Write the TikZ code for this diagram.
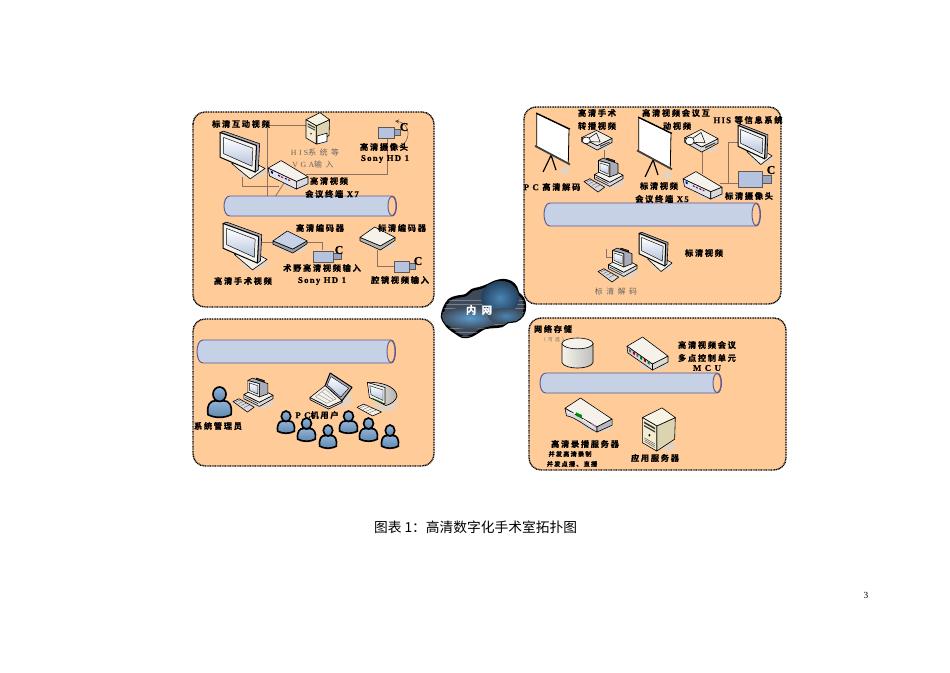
\documentclass[tikz,border=0pt]{standalone}
\usepackage{fontspec}
\setmainfont{Liberation Serif}
\newfontfamily\cjkb[LetterSpace=20,FakeBold=1]{Noto Sans CJK SC Bold}
\newfontfamily\cjkr[LetterSpace=45]{Noto Sans CJK SC}
\newfontfamily\cjkcap{Noto Sans CJK SC}
\newfontfamily\latb[LetterSpace=14,FakeBold=0.5]{Liberation Serif Bold}
\newfontfamily\latr[LetterSpace=30]{Liberation Serif}
\definecolor{peach}{HTML}{FFCC99}
\definecolor{pipeblue}{HTML}{C6D1E6}
\definecolor{pipeedge}{HTML}{5A5890}
\definecolor{softsh}{HTML}{E6D2C0}
\definecolor{devlight}{HTML}{F4F2EA}
\definecolor{devmid}{HTML}{D9D8DE}
\definecolor{devdark}{HTML}{A9ACB8}
\definecolor{cambody}{HTML}{B5C3DE}
\definecolor{pfill}{HTML}{6E9CCB}
\definecolor{wire}{HTML}{8A7266}
\definecolor{cream}{HTML}{F3ECD0}
\definecolor{creamd}{HTML}{DCD3B0}
\definecolor{slate}{HTML}{3E4A5A}
\definecolor{puffA}{HTML}{5A9ACB}
\definecolor{puffB}{HTML}{4A85B5}
\definecolor{puffC}{HTML}{24425F}
\tikzset{
  panel/.style={draw=black,fill=peach,line width=1.05pt,dash pattern=on .75pt off .5pt,rounded corners=9pt},
  wireline/.style={draw=wire,line width=0.6pt},
  lab/.style={inner sep=0pt,font=\fontsize{6.2pt}{7pt}\cjkb,text=black},
  labsmall/.style={inner sep=0pt,font=\fontsize{4.6pt}{5pt}\cjkb,text=black},
  grey/.style={inner sep=0pt,font=\fontsize{5.9pt}{6pt}\cjkr,text=black!60},
  dev/.style={draw=black,line width=0.45pt,line join=round},
  devthick/.style={draw=black,line width=0.75pt,line join=round},
}
\newcommand{\ltn}[1]{{\fontsize{6.6pt}{7pt}\latb #1}}
\newcommand\icon[5]{\begin{scope}[shift={(#1,#2)},x={#3*0.0075pt},y={-#4*0.0075pt}]#5\end{scope}}
\newcommand\monitor[4]{\icon{#1}{#2}{#3}{#4}{
  \fill[softsh] (72,90) ellipse (30 and 13);
  \filldraw[dev,fill=devlight] (26,70)--(60,60)--(100,81)--(67,104)--cycle;
  \filldraw[dev,fill=devdark] (0,1)--(8,-2)--(88,26)--(85,84)--(78,89)--(81,30)--cycle;
  \filldraw[devthick,fill=devlight] (0,1)--(81,30)--(78,89)--(0,56)--cycle;
  \shade[top color=white,bottom color=cambody,draw=black,line width=.35pt] (8,12)--(73,36)--(71,76)--(8,48)--cycle;
}}
\newcommand\desktop[4]{\icon{#1}{#2}{#3}{#4}{
  \fill[softsh] (72,72) ellipse (30 and 18);
  \filldraw[dev,fill=devmid] (27,50)--(66,72)--(100,52)--(100,62)--(66,84)--(27,62)--cycle;
  \filldraw[dev,fill=devlight] (27,50)--(62,30)--(100,52)--(66,72)--cycle;
  \draw[black,line width=.3pt] (31,58)--(62,76);
  \filldraw[dev,fill=devdark] (37,10)--(49,3)--(87,19)--(87,48)--(66,57)--(66,19)--cycle;
  \filldraw[dev,fill=black!70] (58,3)--(78,10)--(78,14)--(58,7)--cycle;
  \filldraw[dev,fill=devlight] (37,10)--(66,19)--(66,57)--(37,43)--cycle;
  \shade[top color=white,bottom color=cambody,draw=black,line width=.3pt] (41,17)--(62,25)--(62,49)--(41,38)--cycle;
  \filldraw[dev,fill=devmid] (0,70)--(15,62)--(53,86)--(36,100)--cycle;
  \draw[black!70,line width=.25pt] (7,71)--(20,65) (14,76)--(27,69) (21,81)--(34,74) (28,87)--(42,79);
}}
\newcommand\projector[4]{\icon{#1}{#2}{#3}{#4}{
  \fill[softsh] (72,85) ellipse (28 and 14);
  \filldraw[dev,fill=devmid] (2,38)--(2,58)--(52,100)--(100,62)--(100,42)--(52,78)--cycle;
  \filldraw[dev,fill=devlight] (2,38)--(50,2)--(100,42)--(52,78)--cycle;
  \draw[black,line width=.4pt] (26,40)--(50,15)--(62,60) (26,58)--(62,60);
  \filldraw[dev,fill=white] (17,52) ellipse (13 and 17);
  \fill[black!80] (62,78)--(92,58)--(92,62)--(62,84)--cycle;
}}
\newcommand\pscreen[4]{\icon{#1}{#2}{#3}{#4}{
  \fill[softsh] (86,92) ellipse (14 and 7);
  \draw[black,line width=.9pt] (46,68)--(23,95) (46,68)--(60,92);
  \filldraw[black,line width=.6pt,fill=white] (5,1)--(97,26)--(95,81)--(5,54)--cycle;
  \draw[black!75,line width=1.3pt] (0,53)--(100,83);
  \draw[black,line width=.9pt] (3,0)--(100,26);
}}
\newcommand\termbox[4]{\icon{#1}{#2}{#3}{#4}{
  \fill[softsh] (70,88) ellipse (32 and 14);
  \filldraw[dev,fill=devlight] (0,28)--(33,2)--(100,58)--(71,74)--cycle;
  \filldraw[dev,fill=devmid!70!white] (0,28)--(71,74)--(71,100)--(4,55)--cycle;
  \filldraw[dev,fill=devmid] (71,74)--(100,58)--(100,82)--(71,100)--cycle;
  \fill[blue!70!black] (7,36)--(12,40)--(12,48)--(7,44)--cycle;
  \fill[blue!60!black] (25,50)--(30,54)--(30,58)--(25,54)--cycle;
  \fill[red!70!black] (33,56)--(38,59)--(38,63)--(33,60)--cycle;
  \fill[blue!60!black] (42,61)--(47,64)--(47,68)--(42,65)--cycle;
  \fill[red!70!black] (50,66)--(55,69)--(55,73)--(50,70)--cycle;
}}
\newcommand\encoder[5]{\icon{#1}{#2}{#3}{#4}{
  \fill[softsh] (62,80) ellipse (38 and 18);
  \filldraw[dev,fill=#5!75!black] (0,45)--(0,60)--(58,100)--(100,58)--(100,45)--(58,82)--cycle;
  \filldraw[dev,fill=#5] (0,45)--(42,0)--(100,45)--(58,82)--cycle;
}}
\newcommand\camera[4]{\icon{#1}{#2}{#3}{#4}{
  \filldraw[draw=black!65,line width=.4pt,fill=cambody] (0,0)--(72,0)--(72,100)--(0,100)--cycle;
  \filldraw[draw=black!65,line width=.4pt,fill=cambody!85!black] (72,25)--(100,25)--(100,75)--(72,75)--cycle;
}}
\newcommand\person[4]{\icon{#1}{#2}{#3}{#4}{
  \path[draw=black,line width=1.25pt,top color=pfill!75!white,bottom color=pfill!85!black] (4,92) .. controls (-2,60) and (14,44) .. (34,46) -- (66,46) .. controls (88,44) and (102,62) .. (96,92) .. controls (70,104) and (30,104) .. (4,92) -- cycle;
  \path[draw=black,line width=1.25pt,top color=pfill!75!white,bottom color=pfill!85!black] (50,24) ellipse (26 and 24);
}}
\newcommand\cloudpath{plot[smooth cycle,tension=.6] coordinates {
 (442,317) (444,308) (449,300) (456,297) (466,295) (472,290) (480,288) (488,285) (494,282) (503,280) (511,282) (516,287) (518,293) (523,298) (525,306) (523,315) (516,321) (508,322) (502,326) (494,327) (485,328) (478,332) (471,336) (463,337) (456,333) (449,328) (445,323)}}
\begin{document}
\begin{tikzpicture}[x=0.75pt,y=-0.75pt]
\useasboundingbox (0,0) rectangle (950,672);
\fill[white] (0,0) rectangle (950,672);
% panels
\path[panel] (193,112) rectangle (434,307);
\path[panel] (524,107) rectangle (781,304);
\path[panel] (193,319) rectangle (434,466);
\path[panel] (529,318) rectangle (786,470);
% coordinates for connectors
\coordinate (aTop) at (267,125);
\coordinate (aSrv) at (306,125);
\coordinate (aPipeA) at (267,197);
\coordinate (aPipeB) at (275,197);
\coordinate (aTerm) at (284,183);
\coordinate (aMon) at (242,177);
\coordinate (aTermB) at (279,186);
\coordinate (aCam) at (387,138);
\coordinate (aTermR) at (306,174);
\coordinate (aEncL) at (273,242);
\coordinate (aMonR) at (260,242);
\coordinate (aEncR) at (306,242);
\coordinate (aCamT) at (322,250);
\coordinate (sEnc) at (377,250);
\coordinate (sCam) at (395,266);
\coordinate (bProj1) at (604,150);
\coordinate (bPC1) at (604,160);
\coordinate (bProj2) at (702,152);
\coordinate (bTerm) at (702,174);
\coordinate (bTermR) at (720,183);
\coordinate (bCam) at (738,183);
\coordinate (bMon) at (739,142);
\coordinate (bJoint) at (728,183);
\coordinate (bPCa) at (606,249);
\coordinate (bPCb) at (613,257);
% connectors
\draw[wireline] (aTop)--(aPipeA);
\draw[wireline] (aTop)--(aSrv);
\draw[wireline] (aTerm)--(aPipeB);
\draw[wireline] (aMon)--(aMon|-aTermB)--(aTermB);
\draw[wireline] (aCam)--(aCam|-aTermR)--(aTermR);
\draw[wireline] (aMonR)--(aEncL);
\draw[wireline] (aEncR)--(aCamT|-aEncR)--(aCamT);
\draw[wireline] (sEnc)--(sEnc|-sCam)--(sCam);
\draw[wireline] (bProj1)--(bPC1);
\draw[wireline] (bProj2)--(bTerm);
\draw[wireline] (bTermR)--(bCam);
\draw[wireline] (bJoint)--(bJoint|-bMon)--(bMon);
\draw[wireline] (bPCa)--(bPCa|-bPCb)--(bPCb);
% pipes
\foreach \xa/\xb/\ya/\yb in {224/397/196/216, 544/761/203/226, 197/396/340/363, 540/722/373/393}{
  \pgfmathsetmacro{\rr}{(\yb-\ya)/2}
  \pgfmathsetmacro{\ym}{(\ya+\yb)/2}
  \filldraw[draw=pipeedge,fill=pipeblue,line width=.7pt]
    (\xa+6,\ya) -- (\xb-5,\ya) .. controls (\xb+1,\ya) and (\xb+1,\yb) .. (\xb-5,\yb) -- (\xa+6,\yb)
    .. controls (\xa-2,\yb) and (\xa-2,\ya) .. (\xa+6,\ya) -- cycle;
  \filldraw[draw=pipeedge,fill=peach,line width=.7pt] (\xb-5,\ym) ellipse (4 and \rr-.5);
}
% panel A devices
\monitor{220}{132}{45}{45}
\termbox{268}{160}{40}{29}
\monitor{223}{223}{44}{45}
\encoder{273}{231}{34}{22}{cambody!75!white}
\encoder{360}{227}{35}{23}{devlight}
\camera{378}{127}{22}{11}
\camera{313}{251}{28}{11}
\camera{394}{261}{21}{11}
% arc by camera
\coordinate (arcA) at (395,121);
\coordinate (arcB) at (398,147);
\draw[black!70,line width=.35pt,-stealth] (arcB) .. controls (412,143) and (411,123) .. (arcA);
% server in panel A
\icon{305}{112}{25}{32}{
  \fill[softsh] (75,92) ellipse (25 and 9);
  \filldraw[dev,fill=creamd] (45,43)--(98,24)--(96,73)--(45,100)--cycle;
  \filldraw[dev,fill=cream!60!white] (4,24)--(60,2)--(98,24)--(45,43)--cycle;
  \filldraw[dev,fill=cream] (4,24)--(45,43)--(45,100)--(4,81)--cycle;
  \fill[black!75] (10,35)--(40,47)--(40,51)--(10,39)--cycle;
  \fill[black!75] (10,43)--(40,55)--(40,58)--(10,46)--cycle;
  \fill[black] (24,68) circle (3 and 3);
  \filldraw[dev,fill=white] (48,75)--(88,66)--(88,92)--(48,100)--cycle;
}
% panel B devices
\pscreen{535}{113}{35}{62}
\projector{581}{130}{31}{20}
\desktop{584}{157}{39}{35}
\pscreen{637}{117}{35}{63}
\projector{684}{129}{34}{23}
\monitor{738}{125}{34}{38}
\termbox{683}{171}{39}{28}
\camera{738}{171}{33}{16}
\monitor{639}{233}{33}{37}
\desktop{598}{247}{39}{35}
% panel C devices
\person{207}{387}{25}{30}
\desktop{233}{377}{40}{35}
% laptop
\icon{310}{373}{42}{36}{
  \fill[softsh] (72,72) ellipse (28 and 24);
  \filldraw[devthick,fill=devdark] (36,35)--(48,0)--(100,40)--(76,77)--cycle;
  \shade[top color=white,bottom color=cambody,draw=black,line width=.3pt] (41,33)--(50,10)--(92,42)--(73,67)--cycle;
  \filldraw[dev,fill=devmid] (0,68)--(0,74)--(44,100)--(76,82)--(76,77)--(44,94)--cycle;
  \filldraw[dev,fill=devlight] (0,68)--(36,35)--(76,77)--(44,94)--cycle;
  \draw[black!45,line width=.3pt] (13,66)--(36,44)--(62,72)--(40,84)--cycle (20,60)--(48,78) (28,52)--(55,74);
}
% curved-back PC
\icon{357}{381}{40}{36}{
  \fill[softsh] (72,62) ellipse (30 and 24);
  \path[draw=black,line width=.5pt,left color=devlight,right color=black!30] (26,4) .. controls (55,2) and (96,12) .. (100,41) .. controls (98,54) and (86,64) .. (72,68) -- (34,46) -- cycle;
  \filldraw[dev,fill=devlight] (26,4)--(70,18)--(70,64)--(31,46)--cycle;
  \shade[top color=white,bottom color=cambody,draw=black,line width=.3pt] (32,13)--(65,25)--(65,54)--(35,38)--cycle;
  \draw[green!50!black,line width=.4pt] (37,47)--(64,60);
  \filldraw[dev,fill=devlight] (0,73)--(17,64)--(61,86)--(39,97)--cycle;
  \draw[black!60,line width=.25pt] (7,75)--(24,67) (15,79)--(32,71) (23,84)--(41,75) (31,88)--(49,80);
}
\person{277}{411}{18}{22}
\person{297}{418}{19}{23}
\person{319}{425}{18}{23}
\person{339}{411}{19}{22}
\person{359}{418}{19}{23}
\person{381}{425}{18}{23}
% panel D devices
\icon{562}{338}{31}{30}{
  \path[draw=black,line width=.5pt,left color=devlight,right color=black!25] (0,18) -- (0,82) .. controls (10,106) and (90,106) .. (100,82) -- (100,18) -- cycle;
  \filldraw[dev,fill=devlight] (50,18) ellipse (50 and 18);
}
\icon{627}{337}{41}{33}{
  \fill[softsh] (65,85) ellipse (35 and 15);
  \filldraw[dev,fill=devlight] (0,28)--(38,0)--(100,58)--(62,82)--cycle;
  \filldraw[dev,fill=devmid] (0,28)--(62,82)--(62,100)--(2,48)--cycle;
  \filldraw[dev,fill=devlight!90!black] (62,82)--(100,58)--(100,76)--(62,100)--cycle;
  \fill[black!60] (5,36)--(10,40)--(10,48)--(5,44)--cycle;
  \fill[red!60!black] (14,43)--(19,47)--(19,55)--(14,51)--cycle;
  \fill[black!60] (23,50)--(28,54)--(28,62)--(23,58)--cycle;
  \fill[green!50!black] (32,58)--(37,62)--(37,70)--(32,66)--cycle;
  \fill[red!60!black] (41,65)--(46,69)--(46,77)--(41,73)--cycle;
  \fill[green!50!black] (50,72)--(55,76)--(55,84)--(50,80)--cycle;
}
\icon{565}{398}{47}{34}{
  \fill[softsh] (72,85) ellipse (30 and 15);
  \filldraw[dev,fill=devlight] (0,30)--(33,0)--(100,62)--(68,85)--cycle;
  \filldraw[dev,fill=devmid] (0,30)--(3,52) .. controls (25,58) and (45,85) .. (68,100) -- (68,85) -- cycle;
  \filldraw[dev,fill=devmid!85!black] (68,85)--(100,62)--(100,80)--(68,100)--cycle;
  \fill[green!55!black] (23,42)--(36,50)--(36,60)--(23,52)--cycle;
  \draw[white,line width=.5pt] (5,42)--(22,46) (38,62)--(60,84);
  \fill[violet!50!white] (56,74)--(66,82)--(66,87)--(56,79)--cycle;
}
\icon{641}{407}{35}{44}{
  \fill[softsh] (78,90) ellipse (22 and 10);
  \filldraw[dev,fill=creamd] (45,43)--(98,24)--(96,73)--(45,100)--cycle;
  \filldraw[dev,fill=cream!60!white] (4,24)--(60,2)--(98,24)--(45,43)--cycle;
  \filldraw[dev,fill=cream] (4,24)--(45,43)--(45,100)--(4,81)--cycle;
  \fill[black!80] (9,33)--(40,47)--(40,51)--(9,37)--cycle;
  \fill[black!80] (9,41)--(40,55)--(40,58)--(9,44)--cycle;
  \fill[black] (24,64) circle (3 and 3);
  \draw[black!70,line width=.3pt] (10,70)--(40,84) (10,74)--(40,88) (10,78)--(40,92);
}
% cloud
\coordinate (cloudC) at (479,310);
\filldraw[draw=black,line width=1.8pt,fill=slate] \cloudpath;
\begin{scope}
\clip \cloudpath;
\foreach \yy in {300,304,...,336}{\draw[white,line width=.3pt,opacity=.3] (442,\yy)--(526,\yy);}
\shade[inner color=puffA,outer color=slate] (470,318) ellipse (30 and 11);
\shade[inner color=puffB,outer color=puffC] (500,298) ellipse (19 and 17);
\shade[inner color=puffB,outer color=slate] (506,316) ellipse (18 and 8);
\end{scope}
\node[inner sep=0pt,text=white,font=\fontsize{7.8pt}{8pt}\cjkb] (cloudlabel) at (cloudC) {内\hspace{4pt}网};
% labels panel A
\node[lab] (t1) at (241,124) {标清互动视频};
\node[grey] (t2) at (315,152) {{\latr HIS}系统等};
\node[grey] (t3) at (313,164) {{\latr VGA}输入};
\node[lab] (t4) at (384,147) {高清摄像头};
\node[lab] (t5) at (385,159) {\ltn{Sony HD 1}};
\node[lab,font=\fontsize{9pt}{9pt}\latb] (t6) at (404,127) {C};
\node[lab] (t7) at (329,181) {高清视频};
\node[lab] (t8) at (332,194) {会议终端 \ltn{X7}};
\node[lab] (t9) at (320,228) {高清编码器};
\node[lab,font=\fontsize{9pt}{9pt}\latb] (t10) at (339,250) {C};
\node[lab] (t11) at (322,268) {术野高清视频输入};
\node[lab] (t12) at (322,281) {\ltn{Sony HD 1}};
\node[lab] (t13) at (243,281) {高清手术视频};
\node[lab] (t14) at (402,228) {标清编码器};
\node[lab,font=\fontsize{9pt}{9pt}\latb] (t15) at (418,261) {C};
\node[lab] (t16) at (400,280) {腔镜视频输入};
% labels panel B
\node[lab] (u1) at (597,113) {高清手术};
\node[lab] (u2) at (597,126) {转播视频};
\node[lab] (u3) at (552,187) {\ltn{P C} 高清解码};
\node[lab] (u4) at (676,113) {高清视频会议互};
\node[lab] (u5) at (677,126) {动视频};
\node[lab] (u6) at (748,120) {\ltn{HIS} 等信息系统};
\node[lab,font=\fontsize{9pt}{9pt}\latb] (u7) at (771,170) {C};
\node[lab] (u8) at (659,186) {标清视频};
\node[lab] (u9) at (662,199) {会议终端 \ltn{X5}};
\node[lab] (u10) at (749,196) {标清摄像头};
\node[lab] (u11) at (704,253) {标清视频};
\node[grey] (u12) at (616,292) {标清解码};
% labels panel C
\node[lab] (v1) at (218,426) {系统管理员};
\node[lab] (v2) at (317,415) {\ltn{P C}机用户};
% labels panel D
\node[lab] (w1) at (553,329) {网络存储};
\node[grey,font=\fontsize{3.6pt}{4pt}\cjkr] (w2) at (554,340) {（可选）};
\node[lab] (w3) at (707,345) {高清视频会议};
\node[lab] (w4) at (707,358) {多点控制单元};
\node[lab] (w5) at (707,368) {\ltn{M C U}};
\node[lab] (w6) at (585,444) {高清录播服务器};
\node[labsmall] (w7) at (570,454) {并发高清录制};
\node[labsmall] (w8) at (572,464) {并发点播、直播};
\node[lab] (w9) at (655,458) {应用服务器};
% caption
\node[inner sep=0pt,font=\fontsize{10.3pt}{12pt}\cjkcap] (cap) at (475.5,527) {图表 1：高清数字化手术室拓扑图};
\node[inner sep=0pt,font=\fontsize{7pt}{8pt}\rmfamily] (pg) at (866,595) {3};
\end{tikzpicture}
\end{document}
